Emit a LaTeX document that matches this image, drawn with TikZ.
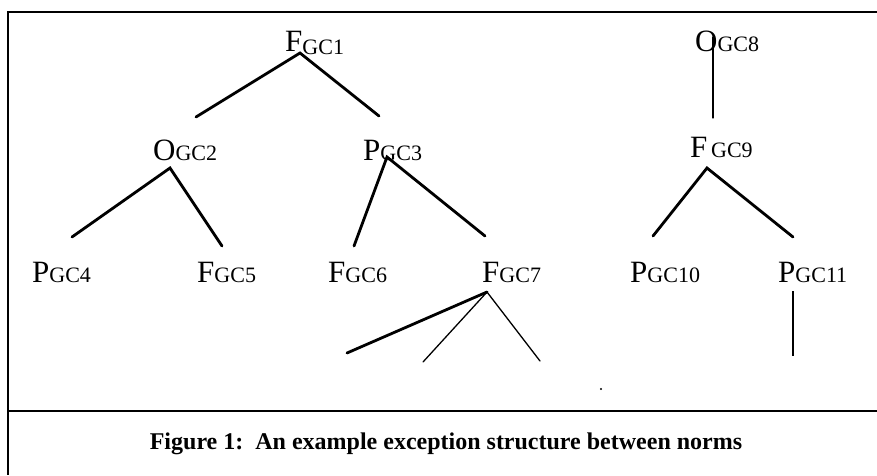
\documentclass[tikz,border=0pt]{standalone}
\usepackage{fontspec}
\setmainfont{Liberation Serif}
\newcommand\mainsize{\fontsize{31}{31}\selectfont}
\newcommand\subsize{\fontsize{22}{22}\selectfont}
\newcommand\normlabel[2]{#1{\subsize #2}}
\begin{document}
\begin{tikzpicture}[x=1pt,y=-1pt,
  lbl/.style={anchor=base west, inner sep=0pt, font=\mainsize},
  thickedge/.style={line width=2.8pt, line cap=round},
  thinedge/.style={line width=1.3pt, line cap=round},
  frame/.style={line width=1.5pt}]
\useasboundingbox (0,0) rectangle (877,475);

% frame
\coordinate (tl) at (8,12);
\coordinate (tr) at (877,12);
\coordinate (bl) at (8,475);
\coordinate (ml) at (8,411);
\coordinate (mr) at (877,411);
\draw[frame] (tr) -- (tl) -- (bl);
\draw[frame] (ml) -- (mr);

% norm labels
\node[lbl] (gc1) at (285,51) {\normlabel{F}{\raisebox{-3pt}{GC1}}};
\node[lbl] (gc8) at (695,51) {\normlabel{O}{GC8}};
\node[lbl] (gc2) at (153,160) {\normlabel{O}{GC2}};
\node[lbl] (gc3) at (363,160) {\normlabel{P}{GC3}};
\node[lbl] (gc9) at (690,157) {\normlabel{F}{\,GC9}};
\node[lbl] (gc4) at (32,282) {\normlabel{P}{GC4}};
\node[lbl] (gc5) at (197,282) {\normlabel{F}{GC5}};
\node[lbl] (gc6) at (328,282) {\normlabel{F}{GC6}};
\node[lbl] (gc7) at (482,282) {\normlabel{F}{GC7}};
\node[lbl] (gc10) at (630,282) {\normlabel{P}{GC10}};
\node[lbl] (gc11) at (778,282) {\normlabel{P}{GC11}};

% branch points and branch ends
\coordinate (a1) at (300,53);
\coordinate (a1l) at (196,117);
\coordinate (a1r) at (379,116);
\coordinate (a8) at (713,37);
\coordinate (a8d) at (713,118);
\coordinate (a2) at (170,168);
\coordinate (a2l) at (72,237);
\coordinate (a2r) at (222,246);
\coordinate (a3) at (387,157);
\coordinate (a3l) at (354,246);
\coordinate (a3r) at (485,236);
\coordinate (a9) at (707,168);
\coordinate (a9l) at (653,236);
\coordinate (a9r) at (793,237);
\coordinate (a7) at (487,292);
\coordinate (a7l) at (347,353);
\coordinate (a7m) at (423,362);
\coordinate (a7r) at (540,361);
\coordinate (a11) at (793,291);
\coordinate (a11d) at (793,356);

\draw[thickedge] (a1l) -- (a1) -- (a1r);
\draw[thinedge] (a8) -- (a8d);
\draw[thickedge] (a2l) -- (a2) -- (a2r);
\draw[thickedge] (a3l) -- (a3) -- (a3r);
\draw[thickedge] (a9l) -- (a9) -- (a9r);
\draw[thickedge] (a7l) -- (a7);
\draw[thinedge] (a7m) -- (a7) -- (a7r);
\draw[line width=1.8pt] (a11) -- (a11d);

% stray mark
\fill (601,389) circle (1.2pt);

% caption
\node[anchor=base, inner sep=0pt, font=\fontsize{24}{24}\selectfont\bfseries] (cap) at (446,449)
  {Figure 1:\ \ An example exception structure between norms};
\end{tikzpicture}
\end{document}
